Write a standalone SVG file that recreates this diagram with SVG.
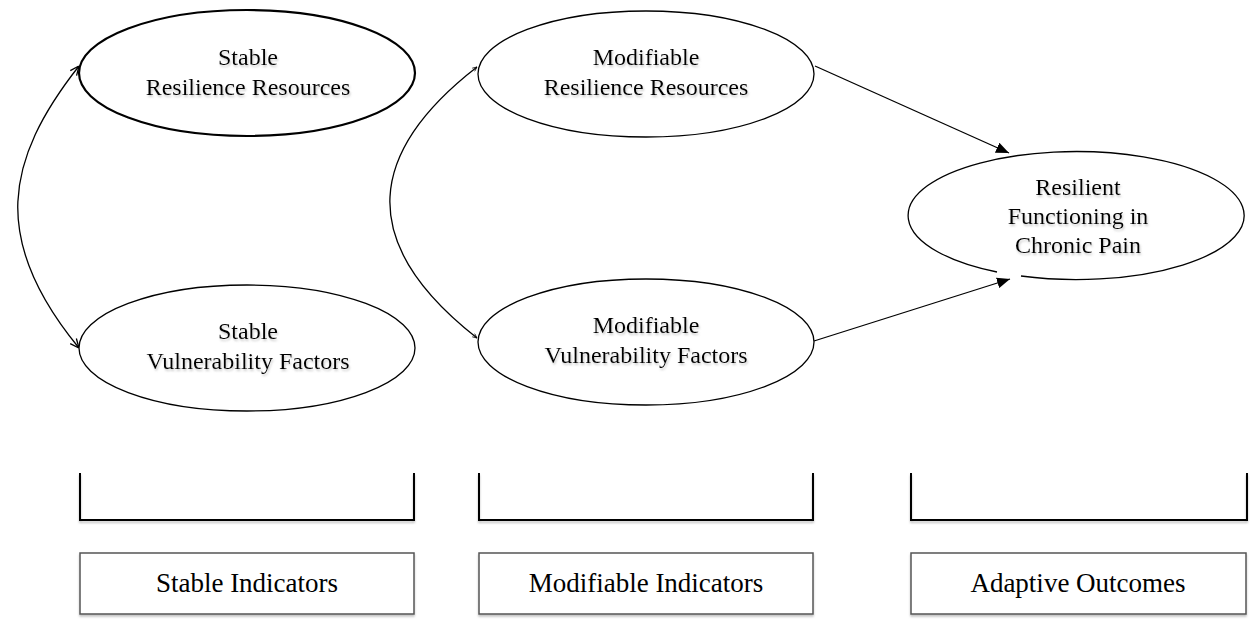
<svg xmlns="http://www.w3.org/2000/svg" width="1251" height="624" viewBox="0 0 1251 624">
<style>
.node{fill:#fff;stroke:#000;stroke-width:1.3}
.thick{stroke-width:2.2}
.lbl{font-family:"Liberation Serif","Times New Roman",serif;font-size:24px;fill:#000;text-anchor:middle}
.blbl{font-family:"Liberation Serif","Times New Roman",serif;font-size:27px;fill:#000;text-anchor:middle}
.conn{fill:none;stroke:#000;stroke-width:1.3}
.brk{fill:none;stroke:#000;stroke-width:2}
.box{fill:#fff;stroke:#555;stroke-width:1.5}
</style>
<defs>
<marker id="open" viewBox="0 0 10 10" refX="10" refY="5" markerWidth="10" markerHeight="10" markerUnits="userSpaceOnUse" orient="auto-start-reverse">
<path d="M1 1 L10 5 L1 9" fill="none" stroke="#000" stroke-width="1.3"/>
</marker>
<marker id="tiny" viewBox="0 0 10 10" refX="10" refY="5" markerWidth="5" markerHeight="5" markerUnits="userSpaceOnUse" orient="auto-start-reverse">
<path d="M1 1 L10 5 L1 9" fill="none" stroke="#000" stroke-width="1.5"/>
</marker>
<marker id="solid" viewBox="0 0 12 10" refX="12" refY="5" markerWidth="13" markerHeight="11" markerUnits="userSpaceOnUse" orient="auto">
<path d="M0 0 L12 5 L0 10 Z" fill="#000"/>
</marker>
<filter id="ts" x="-10%" y="-30%" width="120%" height="170%">
<feDropShadow dx="1" dy="2" stdDeviation="1" flood-color="#888" flood-opacity="0.45"/>
</filter>
<filter id="bs" x="-5%" y="-10%" width="110%" height="130%">
<feDropShadow dx="0" dy="2" stdDeviation="0.8" flood-color="#999" flood-opacity="0.6"/>
</filter>
</defs>

<g id="connectors">
<path class="conn" d="M79 66 C5 160, -10 240, 79 348" marker-start="url(#open)" marker-end="url(#open)"/>
<path class="conn" d="M477 67 C370 150, 352 240, 477 338" marker-start="url(#tiny)" marker-end="url(#tiny)"/>
<line class="conn" x1="815" y1="66" x2="1009" y2="153" marker-end="url(#solid)"/>
<line class="conn" x1="814" y1="341" x2="1010" y2="279" marker-end="url(#solid)"/>
</g>

<g id="stable-resilience">
<ellipse class="node thick" cx="247" cy="73" rx="168" ry="63"/>
<text class="lbl" filter="url(#ts)" x="248" y="65">Stable</text>
<text class="lbl" filter="url(#ts)" x="248" y="95">Resilience Resources</text>
</g>

<g id="stable-vulnerability">
<ellipse class="node" cx="247" cy="348" rx="168" ry="63"/>
<text class="lbl" filter="url(#ts)" x="248" y="339">Stable</text>
<text class="lbl" filter="url(#ts)" x="248" y="369">Vulnerability Factors</text>
</g>

<g id="modifiable-resilience">
<ellipse class="node" cx="646" cy="74" rx="168" ry="63"/>
<text class="lbl" filter="url(#ts)" x="646" y="65">Modifiable</text>
<text class="lbl" filter="url(#ts)" x="646" y="95">Resilience Resources</text>
</g>

<g id="modifiable-vulnerability">
<ellipse class="node" cx="646" cy="342" rx="168" ry="63"/>
<text class="lbl" filter="url(#ts)" x="646" y="333">Modifiable</text>
<text class="lbl" filter="url(#ts)" x="646" y="363">Vulnerability Factors</text>
</g>

<g id="resilient-functioning">
<path class="node" d="M1021 276 A168 64 0 1 0 997 272"/>
<text class="lbl" filter="url(#ts)" x="1078" y="195">Resilient</text>
<text class="lbl" filter="url(#ts)" x="1078" y="224">Functioning in</text>
<text class="lbl" filter="url(#ts)" x="1078" y="253">Chronic Pain</text>
</g>

<g id="bracket-stable">
<path class="brk" filter="url(#bs)" d="M80 473 V520 H414 V473"/>
</g>
<g id="bracket-modifiable">
<path class="brk" filter="url(#bs)" d="M479 473 V520 H813 V473"/>
</g>
<g id="bracket-adaptive">
<path class="brk" filter="url(#bs)" d="M911 473 V520 H1247 V473"/>
</g>

<g id="box-stable">
<rect class="box" filter="url(#bs)" x="80" y="553" width="334" height="61"/>
<text class="blbl" x="247" y="592">Stable Indicators</text>
</g>
<g id="box-modifiable">
<rect class="box" filter="url(#bs)" x="479" y="553" width="334" height="61"/>
<text class="blbl" x="646" y="592">Modifiable Indicators</text>
</g>
<g id="box-adaptive">
<rect class="box" filter="url(#bs)" x="911" y="553" width="335" height="61"/>
<text class="blbl" x="1078" y="592">Adaptive Outcomes</text>
</g>
</svg>
